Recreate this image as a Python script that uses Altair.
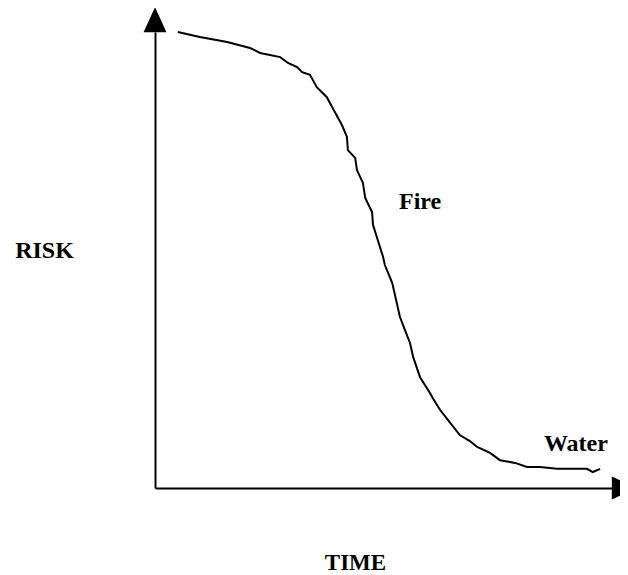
import altair as alt
import pandas as pd

# Curve (time 0-100, risk 0-100)
time_vals = [5.0, 9.8, 15.8, 20.8, 23.0, 27.4, 29.1, 31.1, 32.2, 33.9, 35.4, 37.6,
             38.9, 40.9, 42.0, 42.2, 43.8, 44.2, 45.5, 46.0, 47.5, 47.7, 49.9, 50.3,
             51.9, 53.6, 54.7, 55.8, 56.5, 58.0, 60.2, 60.8, 62.4, 64.6, 66.7, 68.9,
             70.5, 73.3, 75.5, 78.8, 81.4, 84.2, 88.0, 91.9, 94.5, 95.8, 97.4]
risk_vals = [100.0, 98.9, 97.8, 96.5, 95.4, 94.5, 93.2, 92.3, 91.2, 90.6, 87.9, 85.7,
             83.3, 79.6, 77.0, 74.1, 72.4, 69.7, 66.9, 63.6, 60.5, 57.7, 50.7, 48.9,
             45.0, 37.5, 34.6, 31.8, 28.7, 24.3, 20.8, 19.7, 17.1, 14.3, 11.6, 10.3,
             9.0, 7.7, 6.1, 5.5, 4.6, 4.6, 4.2, 4.2, 4.2, 3.5, 4.2]

label_text = ["Fire", "Water"]
label_time = [58.0, 92.1]
label_risk = [62.7, 9.6]

arrow_time = [0, 102.7]
arrow_risk = [102.7, 0]
arrow_shape = ["M0,-1L0.92,1L-0.92,1Z", "M1,0L-1,0.92L-1,-0.92Z"]

curve = pd.DataFrame({"t": time_vals, "r": risk_vals})
labels = pd.DataFrame({"text": label_text, "t": label_time, "r": label_risk})

FONT = "Liberation Serif"

xs = alt.Scale(domain=[0, 100], nice=False, zero=False)
ys = alt.Scale(domain=[0, 100], nice=False, zero=False)

xaxis = alt.Axis(title="TIME", ticks=False, labels=False, grid=False,
                 domainColor="black", domainWidth=2,
                 titleFont=FONT, titleFontSize=23, titleFontWeight="bold", titleColor="black",
                 titleX=200, titleY=74, titleAlign="center", titleBaseline="middle")
yaxis = alt.Axis(title="RISK", ticks=False, labels=False, grid=False,
                 domainColor="black", domainWidth=2,
                 titleFont=FONT, titleFontSize=24, titleFontWeight="bold", titleColor="black",
                 titleAngle=0, titleX=-111, titleY=218, titleAlign="center", titleBaseline="middle")

line = alt.Chart(curve).mark_line(color="black", strokeWidth=2).encode(
    x=alt.X("t:Q", scale=xs, axis=xaxis),
    y=alt.Y("r:Q", scale=ys, axis=yaxis),
    order="t:Q",
)

arrows = []
for tv, rv, sh in zip(arrow_time, arrow_risk, arrow_shape):
    arrows.append(
        alt.Chart(curve).mark_point(filled=True, color="black", size=625, shape=sh,
                                    opacity=1, strokeWidth=0).encode(
            x=alt.datum(tv, scale=xs), y=alt.datum(rv, scale=ys)
        ).transform_filter("datum.t == 5.0")
    )

text = alt.Chart(labels).mark_text(font=FONT, fontSize=24, fontWeight="bold", color="black",
                                   align="center", baseline="middle").encode(
    x=alt.X("t:Q", scale=xs), y=alt.Y("r:Q", scale=ys), text="text:N"
)

chart = alt.layer(line, *arrows, text).properties(
    width=457, height=456,
    padding={"left": 147, "top": 24, "right": 8, "bottom": 86},
    autosize=alt.AutoSizeParams(type="none"),
).configure_view(stroke=None)

chart.save("out.html", embed_options={"renderer": "svg", "actions": False})
